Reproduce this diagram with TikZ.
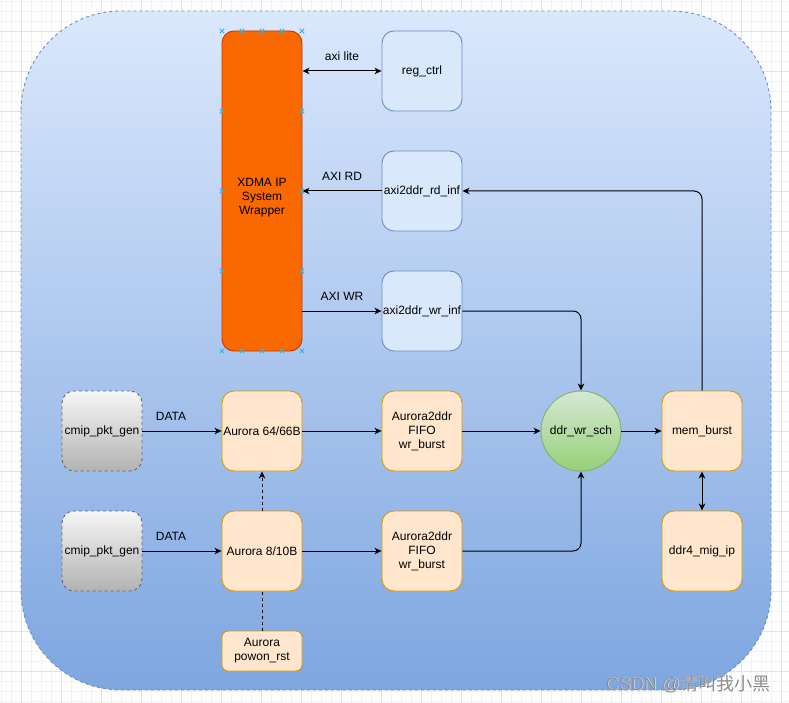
\documentclass[tikz,border=0pt]{standalone}
\usepackage{fontspec}
\setmainfont{Liberation Sans}
\newfontfamily\cjk{Noto Sans CJK SC}
\usetikzlibrary{arrows.meta}
\definecolor{gridminor}{HTML}{F3F3F3}
\definecolor{gridmajor}{HTML}{E3E3E3}
\definecolor{bgtop}{HTML}{DAE8FC}
\definecolor{bgbot}{HTML}{7EA6E0}
\definecolor{blueline}{HTML}{6C8EBF}
\definecolor{bluefill}{HTML}{DAE8FC}
\definecolor{orfill}{HTML}{FFE6CC}
\definecolor{orline}{HTML}{D79B00}
\definecolor{xdmafill}{HTML}{FA6800}
\definecolor{xdmaline}{HTML}{C73500}
\definecolor{grytop}{HTML}{F5F5F5}
\definecolor{grybot}{HTML}{B3B3B3}
\definecolor{gryline}{HTML}{666666}
\definecolor{grntop}{HTML}{D5E8D4}
\definecolor{grnbot}{HTML}{97D077}
\definecolor{grnline}{HTML}{82B366}
\definecolor{handle}{HTML}{29B6F2}
\tikzset{
  lbl/.style={font=\fontsize{12}{14}\selectfont},
  box/.style={draw, line width=0.9pt, rounded corners=12pt, minimum width=80pt, minimum height=80pt,
    align=center, inner sep=1pt, font=\fontsize{12}{14}\selectfont, text=black},
  bluebox/.style={box, draw=blueline, fill=bluefill},
  orbox/.style={box, draw=orline, fill=orfill},
  graybox/.style={box, draw=gryline, dash pattern=on 3pt off 3pt, top color=grytop, bottom color=grybot},
  xdmabox/.style={box, draw=xdmaline, fill=xdmafill, minimum height=320pt},
  circ/.style={circle, draw=grnline, line width=0.9pt, top color=grntop, bottom color=grnbot,
    minimum size=80pt, inner sep=0pt, font=\fontsize{12}{14}\selectfont},
  arr/.style={-{Stealth[length=7pt,width=6.5pt,inset=2pt]}, line width=1pt},
  darr/.style={{Stealth[length=7pt,width=6.5pt,inset=2pt]}-{Stealth[length=7pt,width=6.5pt,inset=2pt]}, line width=1pt},
  dsh/.style={dash pattern=on 3pt off 3pt},
  hmark/.style={draw=handle, line width=0.9pt}
}
\begin{document}
\begin{tikzpicture}[x=1pt,y=-1pt]
\useasboundingbox (0,0) rectangle (789,703);
\fill[white] (0,0) rectangle (789,703);
% grid
\foreach \i in {1,11,...,789} \draw[gridminor, line width=0.8pt] (\i,0) -- (\i,703);
\foreach \j in {1,11,...,703} \draw[gridminor, line width=0.8pt] (0,\j) -- (789,\j);
\foreach \i in {21,61,...,789} \draw[gridmajor, line width=0.8pt] (\i,0) -- (\i,703);
\foreach \j in {31,71,...,703} \draw[gridmajor, line width=0.8pt] (0,\j) -- (789,\j);
% container
\draw[blueline, line width=0.9pt, dash pattern=on 3pt off 3pt, rounded corners=100pt,
  top color=bgtop, bottom color=bgbot] (21,11) rectangle (771,690);

% nodes
\node[xdmabox] (xdma) at (262,191) {};
\node[lbl, align=center, text=black] (xdmatxt) at (262,198) {XDMA IP\\System\\Wrapper};
\node[bluebox] (reg) at (422,71) {reg\_ctrl};
\node[bluebox] (rd) at (422,191) {axi2ddr\_rd\_inf};
\node[bluebox] (wr) at (422,311) {axi2ddr\_wr\_inf};
\node[graybox] (gen1) at (102,431) {cmip\_pkt\_gen};
\node[graybox] (gen2) at (102,551) {cmip\_pkt\_gen};
\node[orbox] (a64) at (262,431) {Aurora 64/66B};
\node[orbox] (a8) at (262,551) {Aurora 8/10B};
\node[orbox, minimum height=40pt, rounded corners=6pt] (rst) at (262,651) {Aurora\\powon\_rst};
\node[orbox] (f1) at (422,431) {Aurora2ddr\\FIFO\\wr\_burst};
\node[orbox] (f2) at (422,551) {Aurora2ddr\\FIFO\\wr\_burst};
\node[circ] (sch) at (581,431) {ddr\_wr\_sch};
\node[orbox] (mem) at (702,431) {mem\_burst};
\node[orbox] (mig) at (702,551) {ddr4\_mig\_ip};

% connectors
\draw[darr] (xdma.east |- reg) -- (reg.west) node[lbl, midway, above=7pt] {axi lite};
\draw[arr] (rd.west) -- (xdma.east |- rd) node[lbl, midway, above=7pt] {AXI RD};
\draw[arr] (xdma.east |- wr) -- (wr.west) node[lbl, midway, above=7pt] {AXI WR};
\draw[arr, rounded corners=8pt] (wr.east) -| (sch.north);
\draw[arr, rounded corners=8pt] (mem.north) |- (rd.east);
\draw[arr] (gen1.east) -- (a64.west) node[lbl, midway, above=7pt, xshift=-11pt] {DATA};
\draw[arr] (gen2.east) -- (a8.west) node[lbl, midway, above=7pt, xshift=-11pt] {DATA};
\draw[arr] (a64.east) -- (f1.west);
\draw[arr] (a8.east) -- (f2.west);
\draw[arr] (f1.east) -- (sch.west);
\draw[arr, rounded corners=8pt] (f2.east) -| (sch.south);
\draw[arr] (sch.east) -- (mem.west);
\draw[darr] (mem.south) -- (mig.north);
\draw[arr, dsh] (a8.north) -- (a64.south);
\draw[line width=1pt, dsh] (rst.north) -- (a8.south);

% selection handles on XDMA
\foreach \p in {(222,31),(242,31),(262,31),(282,31),(302,31),
                (222,351),(242,351),(262,351),(282,351),(302,351),
                (222,111),(302,111),(222,191),(302,191),(222,271),(302,271)}{
  \draw[hmark] \p ++(-2.2,-2.2) -- ++(4.4,4.4);
  \draw[hmark] \p ++(-2.2,2.2) -- ++(4.4,-4.4);
}

% watermark
\node[text=white, font=\fontsize{18}{20}\selectfont] at (688.6,684.6) {CSDN @{\cjk 请叫我小黑}};
\node[text=black!45, font=\fontsize{18}{20}\selectfont] (wm) at (688,684) {CSDN @{\cjk 请叫我小黑}};
\end{tikzpicture}
\end{document}
